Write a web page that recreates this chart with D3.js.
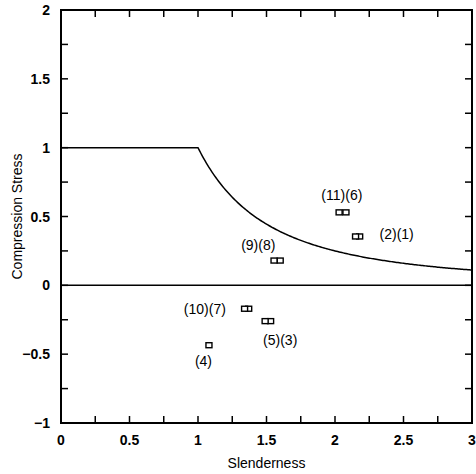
<!DOCTYPE html>
<html>
<head>
<meta charset="utf-8">
<script src="https://cdn.jsdelivr.net/npm/d3@7"></script>
<style>
  body { margin: 0; background: #fff; }
  svg { display: block; font-family: "Liberation Sans", Arial, sans-serif; }
</style>
</head>
<body>
<svg id="chart" width="476" height="474"></svg>
<script>
// test specimens: slenderness vs compression stress
const slenderness = [2.18, 2.15, 1.53, 1.08, 1.49, 2.08, 1.37, 1.60, 1.555, 1.34, 2.03];
const stress = [0.355, 0.355, -0.26, -0.435, -0.26, 0.53, -0.17, 0.18, 0.18, -0.17, 0.53];

// label groups, in data coordinates of the label centre
const groupLabels = ["(11)(6)", "(2)(1)", "(9)(8)", "(10)(7)", "(5)(3)", "(4)"];
const groupLabelX = [2.05, 2.45, 1.44, 1.05, 1.6, 1.04];
const groupLabelY = [0.655, 0.37, 0.29, -0.17, -0.4, -0.55];

const xTicks = [0, 0.5, 1, 1.5, 2, 2.5, 3];
const yTicks = [-1, -0.5, 0, 0.5, 1, 1.5, 2];

let margin = { left: 61, right: 4, top: 10, bottom: 51 };
let width = 476, height = 474;

const svg = d3.select("#chart");

const x = d3.scaleLinear().domain([0, 3]).range([margin.left, width - margin.right]);
const y = d3.scaleLinear().domain([-1, 2]).range([height - margin.bottom, margin.top]);

// design curve: 1 up to slenderness 1, then 1/lambda^2
const curve = d3.range(0, 3.001, 0.01).map((l) => [l, l <= 1 ? 1 : 1 / (l * l)]);

const minor = d3.range(0, 3.001, 0.25);
const minorY = d3.range(-1, 2.001, 0.25);

// inward ticks on all four sides
const tickLen = 7;
const g = svg.append("g").attr("stroke", "#000").attr("stroke-width", 1.5);
minor.forEach((t) => {
  g.append("line").attr("x1", x(t)).attr("x2", x(t)).attr("y1", y(-1)).attr("y2", y(-1) - tickLen);
  g.append("line").attr("x1", x(t)).attr("x2", x(t)).attr("y1", y(2)).attr("y2", y(2) + tickLen);
});
minorY.forEach((t) => {
  g.append("line").attr("x1", x(0)).attr("x2", x(0) + tickLen).attr("y1", y(t)).attr("y2", y(t));
  g.append("line").attr("x1", x(3)).attr("x2", x(3) - tickLen).attr("y1", y(t)).attr("y2", y(t));
});

// frame
svg.append("rect")
  .attr("x", x(0)).attr("y", y(2))
  .attr("width", x(3) - x(0)).attr("height", y(-1) - y(2))
  .attr("fill", "none").attr("stroke", "#000").attr("stroke-width", 2);

// zero line
svg.append("line")
  .attr("x1", x(0)).attr("x2", x(3)).attr("y1", y(0)).attr("y2", y(0))
  .attr("stroke", "#000").attr("stroke-width", 1.5);

// curve
const line = d3.line().x((d) => x(d[0])).y((d) => y(d[1]));
svg.append("path")
  .attr("d", line(curve))
  .attr("fill", "none").attr("stroke", "#000").attr("stroke-width", 1.5);

// tick labels
svg.selectAll(".xt").data(xTicks).enter().append("text")
  .attr("x", (d) => x(d)).attr("y", y(-1) + 22)
  .attr("text-anchor", "middle").attr("font-size", 14).attr("font-weight", "bold")
  .text((d) => d);
svg.selectAll(".yt").data(yTicks).enter().append("text")
  .attr("x", x(0) - 11).attr("y", (d) => y(d) + 5)
  .attr("text-anchor", "end").attr("font-size", 14).attr("font-weight", "bold")
  .text((d) => (d < 0 ? "\u2212" + Math.abs(d) : d));

// axis titles
svg.append("text")
  .attr("x", (x(0) + x(3)) / 2).attr("y", 468)
  .attr("text-anchor", "middle").attr("font-size", 14)
  .text("Slenderness");
svg.append("text")
  .attr("transform", `translate(22,${(y(-1) + y(2)) / 2}) rotate(-90)`)
  .attr("text-anchor", "middle").attr("font-size", 14)
  .text("Compression Stress");

// points
const pts = slenderness.map((v, i) => ({ x: v, y: stress[i] }));
svg.selectAll(".pt").data(pts).enter().append("rect")
  .attr("x", (d) => x(d.x) - 3).attr("y", (d) => y(d.y) - 2.5)
  .attr("width", 6).attr("height", 5)
  .attr("fill", "#fff").attr("stroke", "#000").attr("stroke-width", 1.4);

// group labels
svg.selectAll(".lab").data(groupLabels).enter().append("text")
  .attr("x", (d, i) => x(groupLabelX[i])).attr("y", (d, i) => y(groupLabelY[i]) + 5)
  .attr("text-anchor", "middle").attr("font-size", 14)
  .text((d) => d);
</script>
</body>
</html>
